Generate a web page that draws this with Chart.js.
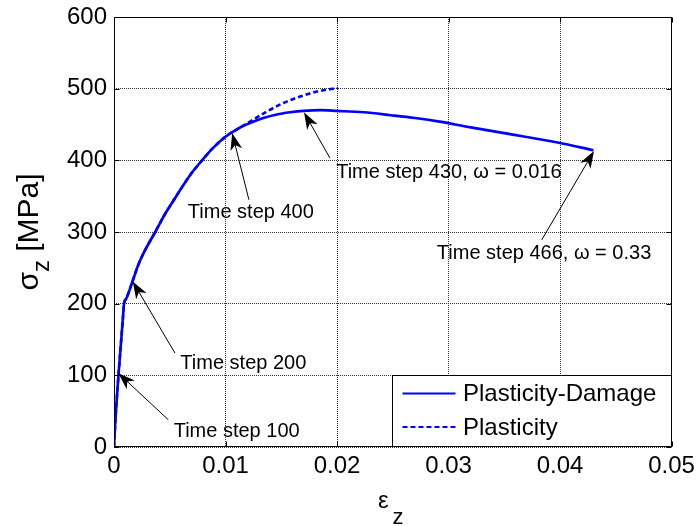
<!DOCTYPE html>
<html><head><meta charset="utf-8">
<script src="https://cdn.jsdelivr.net/npm/chart.js@4"></script>
<style>html,body{margin:0;padding:0;background:#fff;}</style>
</head><body>
<canvas id="c" width="697" height="526"></canvas>
<script>
// ---- data ----
const strainPD = [0, 0.0001, 0.0002, 0.0004, 0.0006, 0.0008, 0.0009, 0.0011, 0.0017, 0.0022, 0.0028, 0.0037, 0.0045, 0.0053, 0.0062, 0.0070, 0.0079, 0.0088, 0.0100, 0.0111, 0.0122, 0.0134, 0.0146, 0.0158, 0.0170, 0.0185, 0.0200, 0.0224, 0.0248, 0.0270, 0.0292, 0.0320, 0.0350, 0.0398, 0.0430];
const stressPD = [0, 30, 56, 100, 140, 180, 200, 207, 233, 255, 275, 300, 323, 343, 365, 383, 400, 416, 433, 444, 452, 459, 464, 467, 469, 470, 469, 467, 463, 459, 454, 446, 438, 425, 414];
const strainP = [0, 0.0001, 0.0002, 0.0004, 0.0006, 0.0008, 0.0009, 0.0011, 0.0017, 0.0022, 0.0028, 0.0037, 0.0045, 0.0053, 0.0062, 0.0070, 0.0079, 0.0088, 0.0100, 0.0111, 0.0122, 0.0137, 0.0152, 0.0167, 0.0182, 0.0201];
const stressP = [0, 30, 56, 100, 140, 180, 200, 207, 233, 255, 275, 300, 323, 343, 365, 383, 400, 416, 433, 444, 454, 468, 480, 489, 496, 501];
const seriesNames = ['Plasticity-Damage', 'Plasticity'];
const xTickLabels = ['0', '0.01', '0.02', '0.03', '0.04', '0.05'];
const yTickLabels = ['0', '100', '200', '300', '400', '500', '600'];
const xTitleMain = 'ε', xTitleSub = 'z';
const yTitleMain = 'σ', yTitleSub = 'z', yTitleUnit = ' [MPa]';
// annotations (data coordinates)
const annoText  = ['Time step 100', 'Time step 200', 'Time step 400', 'Time step 430, ω = 0.016', 'Time step 466, ω = 0.33'];
const annoTipX  = [0.00039, 0.00168, 0.0106, 0.01704, 0.04305];
const annoTipY  = [103, 231, 438, 467, 413];
const annoTailX = [0.00487, 0.00547, 0.0121, 0.01937, 0.03836];
const annoTailY = [38, 131, 345, 403, 289];
const annoTextX = [0.0110, 0.0116, 0.01227, 0.03004, 0.03857];
const annoTextY = [21, 117, 327, 383, 270];

const FONT = '"Liberation Sans", Arial, Helvetica, sans-serif';
Chart.defaults.font.family = FONT;
Chart.defaults.color = '#000';

const zip = (xs, ys) => xs.map((v, i) => ({x: v, y: ys[i]}));

const decor = {
  id: 'decor',
  afterDraw(chart) {
    const {ctx, chartArea: a, scales: {x, y}} = chart;
    ctx.save();
    // frame
    ctx.strokeStyle = '#000';
    ctx.lineWidth = 1;
    const L = Math.round(a.left) + 0.5, R = Math.round(a.right) - 0.5,
          T = Math.round(a.top) + 0.5, B = Math.round(a.bottom) - 0.5;
    ctx.strokeRect(L, T, R - L, B - T);
    // inward ticks
    ctx.beginPath();
    x.ticks.forEach(t => {
      const px = Math.round(x.getPixelForValue(t.value)) + 0.5;
      ctx.moveTo(px, B); ctx.lineTo(px, B - 5);
      ctx.moveTo(px, T); ctx.lineTo(px, T + 5);
    });
    y.ticks.forEach(t => {
      const py = Math.round(y.getPixelForValue(t.value)) + 0.5;
      ctx.moveTo(L, py); ctx.lineTo(L + 5, py);
      ctx.moveTo(R, py); ctx.lineTo(R - 5, py);
    });
    ctx.stroke();

    // annotations
    ctx.fillStyle = '#000';
    ctx.strokeStyle = '#000';
    ctx.lineWidth = 1;
    for (let i = 0; i < annoText.length; i++) {
      const tx = x.getPixelForValue(annoTipX[i]), ty = y.getPixelForValue(annoTipY[i]);
      const sx = x.getPixelForValue(annoTailX[i]), sy = y.getPixelForValue(annoTailY[i]);
      const ang = Math.atan2(ty - sy, tx - sx);
      const ux = Math.cos(ang), uy = Math.sin(ang), nx = -uy, ny = ux;
      const HL = 17, HW = 6;
      ctx.beginPath();
      ctx.moveTo(sx, sy);
      ctx.lineTo(tx - ux * HL * 0.7, ty - uy * HL * 0.7);
      ctx.stroke();
      ctx.beginPath();
      ctx.moveTo(tx, ty);
      ctx.lineTo(tx - ux * HL + nx * HW, ty - uy * HL + ny * HW);
      ctx.lineTo(tx - ux * HL * 0.72, ty - uy * HL * 0.72);
      ctx.lineTo(tx - ux * HL - nx * HW, ty - uy * HL - ny * HW);
      ctx.closePath();
      ctx.fill();
      ctx.font = '20px ' + FONT;
      ctx.textAlign = 'center';
      ctx.textBaseline = 'middle';
      ctx.fillText(annoText[i], x.getPixelForValue(annoTextX[i]), y.getPixelForValue(annoTextY[i]));
    }

    // legend
    const bx = Math.round(a.right - 279.5) + 0.5, by = Math.round(a.bottom - 72) + 0.5;
    ctx.fillStyle = '#fff';
    ctx.fillRect(bx, by, R - bx, B - by);
    ctx.strokeStyle = '#000';
    ctx.lineWidth = 1;
    ctx.strokeRect(bx, by, R - bx, B - by);
    ctx.font = '24px ' + FONT;
    ctx.textAlign = 'left';
    ctx.textBaseline = 'middle';
    chart.data.datasets.forEach((ds, i) => {
      const ly = by + 18 + i * 33.5;
      ctx.save();
      ctx.strokeStyle = ds.borderColor;
      ctx.lineWidth = 2;
      ctx.setLineDash(ds.borderDash || []);
      ctx.beginPath();
      ctx.moveTo(bx + 10, ly); ctx.lineTo(bx + 63, ly);
      ctx.stroke();
      ctx.restore();
      ctx.fillStyle = '#000';
      ctx.fillText(ds.label, bx + 70.5, ly + 1);
    });

    // x title
    ctx.fillStyle = '#000';
    ctx.textBaseline = 'alphabetic';
    ctx.textAlign = 'left';
    const cx = (a.left + a.right) / 2;
    ctx.font = '24px ' + FONT;
    const wE = ctx.measureText(xTitleMain).width;
    ctx.font = '22px ' + FONT;
    const wZ = ctx.measureText(xTitleSub).width;
    const startX = cx - (wE + 4 + wZ) / 2 - 2;
    ctx.font = '24px ' + FONT;
    ctx.fillText(xTitleMain, startX, 508);
    ctx.font = '22px ' + FONT;
    ctx.fillText(xTitleSub, startX + wE + 4, 524);

    // y title (rotated)
    const cy = (a.top + a.bottom) / 2;
    ctx.save();
    ctx.translate(38, cy);
    ctx.rotate(-Math.PI / 2);
    ctx.font = '30px ' + FONT;
    const w1 = ctx.measureText(yTitleMain).width;
    const w3 = ctx.measureText(yTitleUnit).width;
    ctx.font = '24px ' + FONT;
    const w2 = ctx.measureText(yTitleSub).width;
    let p = -(w1 + w2 + w3) / 2;
    ctx.font = '30px ' + FONT;
    ctx.fillText(yTitleMain, p, 0);
    p += w1;
    ctx.font = '24px ' + FONT;
    ctx.fillText(yTitleSub, p, 11);
    p += w2;
    ctx.font = '30px ' + FONT;
    ctx.fillText(yTitleUnit, p, 0);
    ctx.restore();

    ctx.restore();
  }
};

new Chart(document.getElementById('c'), {
  type: 'line',
  data: {
    datasets: [
      {label: seriesNames[0], data: zip(strainPD, stressPD), borderColor: '#0000ff', borderWidth: 2.6, pointRadius: 0, cubicInterpolationMode: 'monotone', fill: false},
      {label: seriesNames[1], data: zip(strainP, stressP), borderColor: '#0000ff', borderWidth: 2.6, borderDash: [5, 3], pointRadius: 0, cubicInterpolationMode: 'monotone', fill: false}
    ]
  },
  options: {
    responsive: false,
    animation: false,
    devicePixelRatio: 1,
    layout: {padding: {left: 0, top: 17, right: 25.5, bottom: 0}},
    plugins: {legend: {display: false}, tooltip: {enabled: false}},
    scales: {
      x: {
        type: 'linear', min: 0, max: 0.05,
        ticks: {stepSize: 0.01, padding: 5, font: {size: 24}, color: '#000', maxRotation: 0, autoSkip: false,
          callback: (v, i) => xTickLabels[i]},
        grid: {color: '#333', lineWidth: 1, drawTicks: false},
        border: {display: false, dash: [1, 1]},
        afterFit: s => { s.height = 79; s.paddingLeft = 0; s.paddingRight = 0; }
      },
      y: {
        type: 'linear', min: 0, max: 600,
        ticks: {stepSize: 100, padding: 7, font: {size: 24}, color: '#000', autoSkip: false,
          callback: (v, i) => yTickLabels[i]},
        grid: {color: '#333', lineWidth: 1, drawTicks: false},
        border: {display: false, dash: [1, 1]},
        afterFit: s => { s.width = 114; s.paddingTop = 0; s.paddingBottom = 0; }
      }
    }
  },
  plugins: [decor]
});
</script>
</body></html>
